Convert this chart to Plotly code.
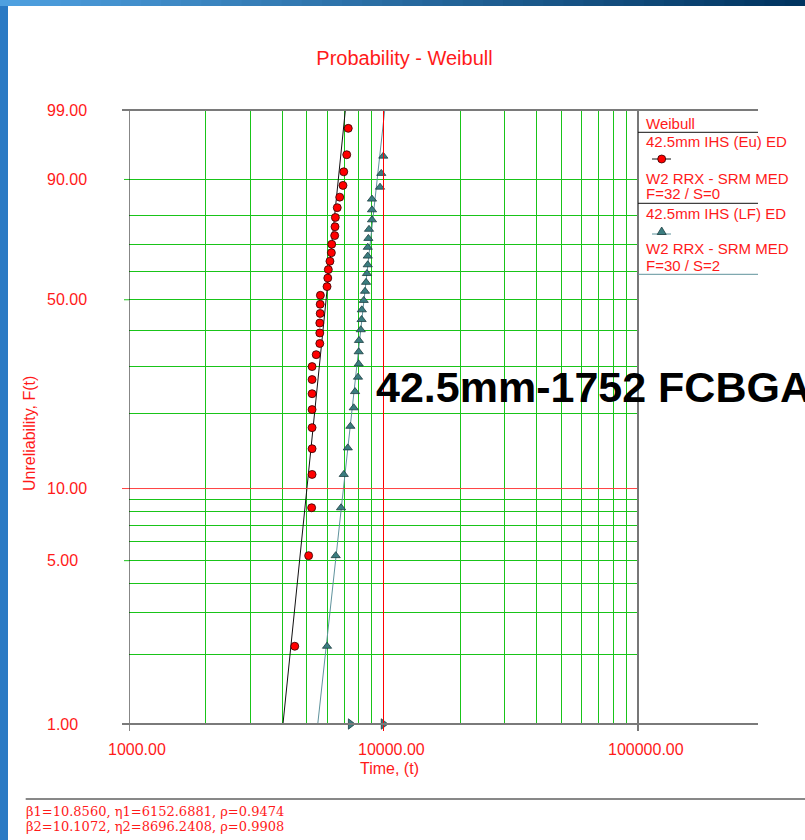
import math
import plotly.graph_objects as go

# ---------------- data ----------------
eu_time = [4480, 5080, 5220, 5240, 5240, 5240, 5240, 5240, 5240, 5240, 5440, 5620,
           5620, 5620, 5640, 5640, 5650, 6000, 6040, 6070, 6160, 6240, 6260, 6430,
           6450, 6470, 6580, 6730, 6930, 6980, 7170, 7270]
eu_unrel = [2.16, 5.25, 8.33, 11.42, 14.51, 17.59, 20.68, 23.77, 26.85, 29.94, 33.02,
            36.11, 39.20, 42.28, 45.37, 48.46, 51.54, 54.63, 57.72, 60.80, 63.89, 66.98,
            70.06, 73.15, 76.23, 79.32, 82.41, 85.49, 88.58, 91.67, 94.75, 97.84]

lf_time = [6000, 6490, 6810, 6980, 7240, 7410, 7640, 7730, 7940, 7990, 7990, 8010,
           8140, 8200, 8220, 8360, 8460, 8540, 8610, 8670, 8670, 8670, 8720, 8770,
           9010, 9010, 9010, 9690, 9800, 9980]
lf_unrel = [2.16, 5.25, 8.33, 11.42, 14.62, 17.81, 21.01, 24.21, 27.40, 30.60, 33.80,
            36.99, 40.19, 43.39, 46.58, 49.78, 52.98, 56.17, 59.37, 62.57, 65.76, 68.96,
            72.16, 75.35, 78.55, 81.75, 84.94, 88.14, 91.34, 94.53]
lf_susp_time = [7430, 10000]
lf_susp_unrel = [1.0, 1.0]

betas = [10.8560, 10.1072]
etas = [6152.6881, 8696.2408]
rhos = [0.9474, 0.9908]

y_ticks = [1, 5, 10, 50, 90, 99]
y_grid = [2, 3, 4, 5, 6, 7, 8, 9, 20, 30, 40, 50, 60, 70, 80, 90]
y_red = 10
x_ticks = [1000, 10000, 100000]
x_grid = [2000, 3000, 4000, 5000, 6000, 7000, 8000, 9000,
          20000, 30000, 40000, 50000, 60000, 70000, 80000, 90000]
x_red = 10000
y_range_pct = [1, 99]

legend_lines = ["42.5mm IHS (Eu) ED", "W2 RRX - SRM MED", "F=32 / S=0",
                "42.5mm IHS (LF) ED", "W2 RRX - SRM MED", "F=30 / S=2"]

# ---------------- helpers ----------------
W, H = 805, 840
ML, MR, MT, MB = 129, 167, 110, 116
PW = W - ML - MR
PH = H - MT - MB


def X(px):
    return (px - ML) / PW


def Y(py):
    return (H - MB - py) / PH


def wb(p):
    return math.log(-math.log(1 - p / 100.0))


RED = "#ff1a1a"
GREEN = "#19c419"
TEAL = "#3b7d80"
TEAL_LINE = "#5f939c"
FONT = "Liberation Sans, Arial, sans-serif"

fig = go.Figure()

# fit lines
line_colors = ["#111111", TEAL_LINE]
for b, e, c in zip(betas, etas, line_colors):
    ts = [e * (-math.log(1 - p / 100.0)) ** (1 / b) for p in y_range_pct]
    fig.add_trace(go.Scatter(x=ts, y=[wb(p) for p in y_range_pct], mode="lines",
                             line=dict(color=c, width=1), showlegend=False,
                             hoverinfo="skip"))

fig.add_trace(go.Scatter(x=eu_time, y=[wb(p) for p in eu_unrel], mode="markers",
                         marker=dict(symbol="circle", size=8, color="#ff0000",
                                     line=dict(color="#300000", width=0.8)),
                         showlegend=False, cliponaxis=False))
fig.add_trace(go.Scatter(x=lf_time, y=[wb(p) for p in lf_unrel], mode="markers",
                         marker=dict(symbol="triangle-up", size=8, color=TEAL,
                                     line=dict(color="#1c3d40", width=0.8)),
                         showlegend=False, cliponaxis=False))
fig.add_trace(go.Scatter(x=lf_susp_time, y=[wb(p) for p in lf_susp_unrel], mode="markers",
                         marker=dict(symbol="triangle-right", size=9, color=TEAL,
                                     line=dict(color="#1c3d40", width=0.8)),
                         showlegend=False, cliponaxis=False))

shapes = []
# red reference lines
shapes.append(dict(type="line", xref="x", yref="paper", x0=x_red, x1=x_red,
                   y0=Y(731), y1=1, line=dict(color="#ff0000", width=1)))
shapes.append(dict(type="line", xref="paper", yref="y", x0=X(122), x1=1,
                   y0=wb(y_red), y1=wb(y_red), line=dict(color="#ff4040", width=1)))
# short tick marks
for v in [5, 50, 90]:
    shapes.append(dict(type="line", xref="paper", yref="y", x0=X(124), x1=0,
                       y0=wb(v), y1=wb(v), line=dict(color=GREEN, width=1)))
# left axis
shapes.append(dict(type="line", xref="x", yref="paper", x0=x_ticks[0], x1=x_ticks[0],
                   y0=Y(731), y1=1, line=dict(color="#111111", width=1)))
# right border
shapes.append(dict(type="line", xref="paper", yref="paper", x0=1, x1=1,
                   y0=Y(731), y1=1, line=dict(color="#777777", width=2)))
# bottom & top borders
for yy in [0, 1]:
    shapes.append(dict(type="line", xref="paper", yref="paper", x0=X(122), x1=X(758),
                       y0=yy, y1=yy, line=dict(color="#7a7a7a", width=2)))
# legend separators
shapes.append(dict(type="line", xref="paper", yref="paper", x0=1, x1=X(758),
                   y0=Y(132.3), y1=Y(132.3), line=dict(color="#111111", width=1)))
shapes.append(dict(type="line", xref="paper", yref="paper", x0=1, x1=X(758),
                   y0=Y(203.3), y1=Y(203.3), line=dict(color="#111111", width=1)))
shapes.append(dict(type="line", xref="paper", yref="paper", x0=1, x1=X(758),
                   y0=Y(274.3), y1=Y(274.3), line=dict(color=TEAL_LINE, width=1)))
# legend marker symbols
shapes.append(dict(type="line", xref="paper", yref="paper", x0=X(652), x1=X(671),
                   y0=Y(159), y1=Y(159), line=dict(color="#111111", width=1)))
shapes.append(dict(type="circle", xref="paper", yref="paper", x0=X(657.7), x1=X(665.7),
                   y0=Y(163), y1=Y(155), fillcolor="#ff0000",
                   line=dict(color="#300000", width=0.8)))
shapes.append(dict(type="line", xref="paper", yref="paper", x0=X(652), x1=X(671),
                   y0=Y(234), y1=Y(234), line=dict(color=TEAL_LINE, width=1)))
shapes.append(dict(type="path", xref="paper", yref="paper",
                   path="M {} {} L {} {} L {} {} Z".format(X(657.2), Y(234.5), X(666.2), Y(234.5),
                                                          X(661.7), Y(227)),
                   fillcolor=TEAL, line=dict(color="#1c3d40", width=0.8)))
# bottom separator
shapes.append(dict(type="line", xref="paper", yref="paper", x0=X(25.7), x1=X(805),
                   y0=Y(799), y1=Y(799), line=dict(color="#111111", width=1)))
# blue frame: left strip and top gradient strip
shapes.append(dict(type="rect", xref="paper", yref="paper", x0=X(0), x1=X(8),
                   y0=Y(840), y1=Y(0), fillcolor="#2a7ac4", line=dict(width=0), layer="above"))
nseg = 40
c0 = (78, 160, 224)
c1 = (0, 52, 96)
for i in range(nseg):
    f = i / (nseg - 1)
    col = "rgb({},{},{})".format(*[int(a + (b2 - a) * f) for a, b2 in zip(c0, c1)])
    shapes.append(dict(type="rect", xref="paper", yref="paper",
                       x0=X(W * i / nseg), x1=X(W * (i + 1) / nseg + 1),
                       y0=Y(6), y1=Y(0), fillcolor=col, line=dict(width=0), layer="above"))

annotations = []
for v in y_ticks:
    annotations.append(dict(xref="paper", yref="y", x=X(45), y=wb(v), text="{:.2f}".format(v),
                            xanchor="left", yanchor="middle", showarrow=False,
                            font=dict(family=FONT, size=16, color=RED)))
for v in x_ticks:
    annotations.append(dict(xref="x", yref="paper", x=math.log10(v), y=Y(749.5),
                            text="{:.2f}".format(v), xanchor="center", yanchor="middle",
                            xshift=7.5, showarrow=False,
                            font=dict(family=FONT, size=16, color=RED)))
annotations.append(dict(xref="paper", yref="paper", x=X(389), y=Y(768.5), text="Time, (t)",
                        xanchor="center", yanchor="middle", showarrow=False,
                        font=dict(family=FONT, size=16, color=RED)))
annotations.append(dict(xref="paper", yref="paper", x=X(29), y=Y(434), text="Unreliability, F(t)",
                        textangle=-90, xanchor="center", yanchor="middle", showarrow=False,
                        font=dict(family=FONT, size=16, color=RED)))
annotations.append(dict(xref="paper", yref="paper", x=X(374), y=Y(387),
                        text="<b>42.5mm-1752 FCBGA</b>", xanchor="left", yanchor="middle",
                        showarrow=False, font=dict(family=FONT, size=43, color="#000000")))
# legend texts
annotations.append(dict(xref="paper", yref="paper", x=X(644), y=Y(123), text="Weibull",
                        xanchor="left", yanchor="middle", showarrow=False,
                        font=dict(family=FONT, size=15, color=RED)))
leg_y = [141.7, 178, 193.5, 214, 248.5, 265]
for t, yy in zip(legend_lines, leg_y):
    annotations.append(dict(xref="paper", yref="paper", x=X(644), y=Y(yy), text=t,
                            xanchor="left", yanchor="middle", showarrow=False,
                            font=dict(family=FONT, size=15, color=RED)))
# parameter text
stat_lines = ["\u03b2{i}={b:.4f}, \u03b7{i}={e:.4f}, \u03c1={r:.4f}".format(i=i + 1, b=b, e=e, r=r)
              for i, (b, e, r) in enumerate(zip(betas, etas, rhos))]
for t, yy in zip(stat_lines, [811, 826]):
    annotations.append(dict(xref="paper", yref="paper", x=X(24), y=Y(yy), text=t,
                            xanchor="left", yanchor="middle", showarrow=False,
                            font=dict(family="DejaVu Serif, Liberation Serif, serif",
                                      size=13, color=RED)))

fig.update_layout(
    width=W, height=H,
    margin=dict(l=ML, r=MR, t=MT, b=MB, pad=0),
    paper_bgcolor="white", plot_bgcolor="white",
    title=dict(text="Probability - Weibull", x=404.5 / W, xref="container", xanchor="center",
               y=1 - 58 / H, yref="container", yanchor="middle",
               font=dict(family=FONT, size=20, color=RED)),
    xaxis=dict(type="log", range=[math.log10(x_ticks[0]), math.log10(x_ticks[-1])],
               tickvals=x_grid, showticklabels=False, ticks="", showgrid=True,
               gridcolor=GREEN, gridwidth=1, zeroline=False, showline=False),
    yaxis=dict(range=[wb(y_range_pct[0]), wb(y_range_pct[1])], tickvals=[wb(v) for v in y_grid],
               showticklabels=False, ticks="", showgrid=True, gridcolor=GREEN, gridwidth=1,
               zeroline=False, showline=False),
    shapes=shapes, annotations=annotations, showlegend=False,
)

fig.write_html("out.html", config={"displayModeBar": False},
               post_script="document.body.style.margin='0';document.body.style.overflow='hidden';")
